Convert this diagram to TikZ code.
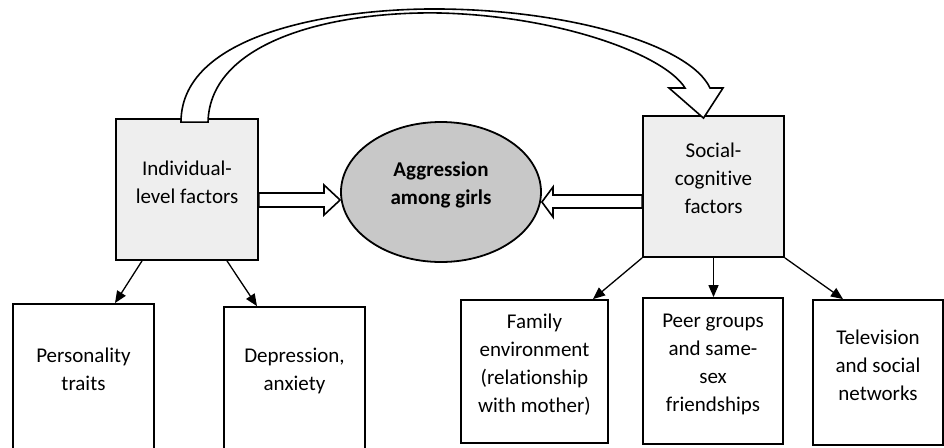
\documentclass[tikz,border=0pt]{standalone}
\usepackage{fontspec}
\setmainfont{Carlito}[Ligatures=NoCommon]
\usetikzlibrary{shapes.geometric,arrows.meta}
\definecolor{boxfill}{HTML}{EEEEEE}
\definecolor{ellfill}{HTML}{C8C8C8}
\tikzset{
  gbox/.style={draw, line width=1.8pt, fill=boxfill, minimum width=141, minimum height=141, inner sep=0pt},
  wbox/.style={draw, line width=1.8pt, fill=white, inner sep=0pt},
  lbl/.style={align=center, yshift=7pt, font=\fontsize{21}{28}\selectfont, inner sep=0pt},
  conn/.style={line width=1.3pt, -{Triangle[length=12pt,width=10pt]}},
  blockarrow/.style={draw, line width=1.6pt, fill=white, line join=miter},
}
\begin{document}
\begin{tikzpicture}[x=1pt,y=-1pt]
\useasboundingbox (0,0) rectangle (944,447);

% main nodes
\node[gbox, minimum width=142, label={[lbl]center:Individual-\\level factors}] (ind) at (187,189.5) {};
\node[ellipse, draw, line width=1.8pt, fill=ellfill, minimum width=200, minimum height=140, inner sep=0pt,
      label={[lbl, font=\fontsize{21}{28}\selectfont\bfseries]center:Aggression\\among girls}] (agg) at (441,192) {};
\node[gbox, label={[lbl, yshift=1pt]center:Social-\\cognitive\\factors}] (soc) at (713.5,186.5) {};

% lower boxes
\node[wbox, minimum width=141, minimum height=145, label={[lbl]center:Personality\\traits}] (per) at (83.5,376.5) {};
\node[wbox, minimum width=141, minimum height=142, label={[lbl]center:Depression,\\anxiety}] (dep) at (294.5,378) {};
\node[wbox, minimum width=147, minimum height=143, label={[lbl]center:Family\\environment\\(relationship\\with mother)}] (fam) at (534.5,371.5) {};
\node[wbox, minimum width=140, minimum height=146, label={[lbl]center:Peer groups\\and same-\\sex\\friendships}] (peer) at (713,371) {};
\node[wbox, minimum width=130, minimum height=145, label={[lbl]center:Television\\and social\\networks}] (tv) at (878,372.5) {};

% thin connectors
\draw[conn] (ind.south -| 142,0) -- (per.north -| 115,0);
\draw[conn] (ind.south -| 227,0) -- (dep.north -| 257,0);
\draw[conn] (soc.south west) -- (fam.north -| 593,0);
\draw[conn] (soc.south) -- (peer.north -| 713.5,0);
\draw[conn] (soc.south east) -- (tv.north -| 843,0);

% block arrows into ellipse
\draw[blockarrow] (ind.east |- 0,193) -- (324,193) -- (324,185) -- ([yshift=-8pt]agg.west) -- (324,215) -- (324,207) -- (ind.east |- 0,207) -- cycle;
\draw[blockarrow] (soc.west |- 0,195) -- (553,195) -- (553,187) -- ([yshift=-10pt]agg.east) -- (553,217) -- (553,208) -- (soc.west |- 0,208) -- cycle;

% curved block arrow from individual to social
\draw[blockarrow] ([xshift=-6pt,yshift=-4pt]ind.north)
  .. controls (181,30) and (345,8) .. (440,9)
  .. controls (570,10) and (690,45) .. (710,88)
  -- (723,88) -- ([xshift=-10pt,yshift=-3pt]soc.north) -- (669,88) -- (685,88)
  .. controls (665,55) and (560,16) .. (440,13)
  .. controls (335,11) and (210,40) .. ([xshift=21pt,yshift=-4pt]ind.north) -- cycle;
\end{tikzpicture}
\end{document}
